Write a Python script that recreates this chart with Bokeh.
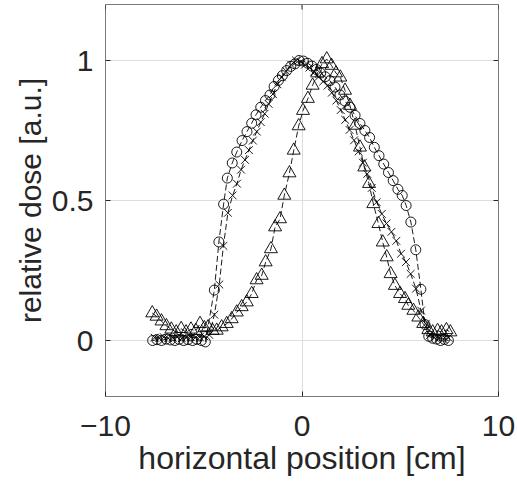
from bokeh.plotting import figure
from bokeh.models import Range1d, FixedTicker
from bokeh.embed import file_html
from bokeh.resources import INLINE

# ---- data ----
circ_x = [-7.6, -7.38, -7.15, -6.92, -6.7, -6.47, -6.25, -6.02, -5.8, -5.57, -5.35, -5.12, -4.92,
          -4.46, -4.23, -3.99, -3.8, -3.55, -3.32, -3.05, -2.8, -2.56, -2.34, -2.1, -1.86, -1.63,
          -1.42, -1.2, -1.0, -0.78, -0.57, -0.36, -0.15, 0.07, 0.29, 0.51, 0.73, 0.95, 1.18, 1.42,
          1.68, 1.93, 2.19, 2.44, 2.7, 2.95, 3.2, 3.44, 3.68, 3.92, 4.16, 4.4, 4.64, 4.88, 5.1,
          5.3, 5.54, 5.79, 6.05, 6.26, 6.45, 6.65, 6.85, 7.05, 7.25, 7.45]
circ_y = [0.0, 0.003, 0.0, 0.005, 0.002, 0.0, 0.004, 0.0, 0.003, 0.0, 0.004, 0.0, -0.005,
          0.18, 0.352, 0.487, 0.58, 0.634, 0.673, 0.714, 0.746, 0.776, 0.806, 0.833, 0.857, 0.877,
          0.907, 0.929, 0.946, 0.964, 0.979, 0.988, 1.0, 0.998, 0.99, 0.98, 0.968, 0.955, 0.942, 0.928,
          0.905, 0.877, 0.855, 0.833, 0.804, 0.775, 0.75, 0.725, 0.69, 0.66, 0.63, 0.6, 0.571, 0.54, 0.518,
          0.482, 0.423, 0.324, 0.183, 0.057, 0.015, 0.008, 0.005, 0.0, 0.004, 0.0]

cross_x = [-7.5, -7.27, -7.04, -6.81, -6.58, -6.35, -6.12, -5.89, -5.66, -5.43, -5.2, -4.97, -4.72,
           -4.46, -4.21, -4.0, -3.77, -3.53, -3.31, -3.1, -2.9, -2.7, -2.5, -2.3, -2.1, -1.9, -1.7,
           -1.48, -1.25, -1.03, -0.8, -0.55, -0.3, -0.07, 0.15, 0.38, 0.62, 0.85, 1.08, 1.3, 1.52,
           1.75, 1.97, 2.2, 2.42, 2.65, 2.88, 3.1, 3.32, 3.55, 3.8, 4.06, 4.3, 4.55, 4.8, 5.04,
           5.29, 5.53, 5.8, 6.06, 6.3, 6.52, 6.75, 6.98, 7.2, 7.45]
cross_y = [0.01, 0.008, 0.012, 0.008, 0.01, 0.012, 0.008, 0.01, 0.012, 0.01, 0.012, 0.015, 0.02,
           0.092, 0.2, 0.338, 0.456, 0.518, 0.56, 0.61, 0.645, 0.68, 0.714, 0.746, 0.78, 0.81, 0.845,
           0.88, 0.915, 0.94, 0.962, 0.985, 1.0, 0.995, 0.985, 0.975, 0.96, 0.942, 0.925, 0.91, 0.885,
           0.857, 0.823, 0.788, 0.752, 0.715, 0.675, 0.635, 0.595, 0.545, 0.494, 0.452, 0.418, 0.388, 0.356, 0.31,
           0.28, 0.238, 0.185, 0.107, 0.06, 0.02, 0.01, 0.01, 0.005, 0.01]

tri_x = [-7.62, -7.4, -7.15, -6.9, -6.65, -6.4, -6.15, -5.9, -5.65, -5.4, -5.19, -4.97, -4.78,
         -4.55, -4.34, -4.09, -3.83, -3.58, -3.32, -3.07, -2.81, -2.56, -2.31, -2.05, -1.85, -1.58,
         -1.37, -1.12, -0.9, -0.64, -0.42, -0.17, 0.05, 0.3, 0.54, 0.78, 1.02, 1.26, 1.5, 1.73,
         1.95, 2.19, 2.44, 2.7, 2.95, 3.17, 3.41, 3.63, 3.89, 4.11, 4.31, 4.51, 4.73, 4.99, 5.24,
         5.41, 5.67, 5.92, 6.17, 6.43, 6.65, 6.9, 7.1, 7.35, 7.55]
tri_y = [0.098, 0.086, 0.069, 0.052, 0.04, 0.03, 0.042, 0.03, 0.04, 0.035, 0.06, 0.045, 0.048,
         0.035, 0.036, 0.048, 0.06, 0.077, 0.101, 0.12, 0.137, 0.167, 0.216, 0.232, 0.28, 0.327,
         0.405, 0.434, 0.518, 0.598, 0.679, 0.766, 0.821, 0.864, 0.911, 0.955, 0.988, 1.005, 0.982, 0.955,
         0.94, 0.893, 0.839, 0.768, 0.69, 0.619, 0.56, 0.488, 0.417, 0.351, 0.298, 0.238, 0.196, 0.167, 0.149,
         0.125, 0.107, 0.083, 0.06, 0.038, 0.03, 0.035, 0.03, 0.038, 0.03]

x_ticks = [-10, 0, 10]
y_ticks = [0, 0.5, 1]
y_tick_labels = {0: "0", 0.5: "0.5", 1: "1"}
X_MIN, X_MAX = -10, 10
Y_MIN, Y_MAX = -0.2, 1.2

FONT = "Liberation Sans"
TXT = "#262626"
FRAME_W, FRAME_H = 393, 392
TICK_PX = 5

p = figure(frame_width=FRAME_W, frame_height=FRAME_H, output_backend="svg", toolbar_location=None,
           x_range=Range1d(X_MIN, X_MAX), y_range=Range1d(Y_MIN, Y_MAX),
           min_border_left=105, min_border_right=18, min_border_top=4, min_border_bottom=78,
           background_fill_color="white", border_fill_color="white")

p.outline_line_color = "#7a7a7a"
p.outline_line_width = 1

# grids
p.xgrid.ticker = FixedTicker(ticks=x_ticks)
p.ygrid.ticker = FixedTicker(ticks=y_ticks)
p.xgrid.grid_line_color = "#dedede"
p.ygrid.grid_line_color = "#dedede"

xa = p.xaxis[0]
ya = p.yaxis[0]
for ax, t in ((xa, x_ticks), (ya, y_ticks)):
    ax.ticker = FixedTicker(ticks=t)
    ax.axis_line_color = None
    ax.major_tick_in = TICK_PX
    ax.major_tick_out = 0
    ax.major_tick_line_color = TXT
    ax.minor_tick_line_color = None
    ax.major_label_text_font = FONT
    ax.major_label_text_color = TXT
    ax.major_label_text_font_size = "30px"
    ax.axis_label_text_font = FONT
    ax.axis_label_text_font_style = "normal"
    ax.axis_label_text_color = TXT
ya.major_label_overrides = y_tick_labels
xa.major_label_standoff = 19
ya.major_label_standoff = 12
xa.axis_label = "horizontal position [cm]"
ya.axis_label = "relative dose [a.u.]"
xa.axis_label_text_font_size = "32px"
ya.axis_label_text_font_size = "30px"
xa.axis_label_standoff = 1
ya.axis_label_standoff = 2

# inward tick marks on the top and right edges of the box
dy = TICK_PX * (Y_MAX - Y_MIN) / FRAME_H
dx = TICK_PX * (X_MAX - X_MIN) / FRAME_W
p.segment(x0=x_ticks, x1=x_ticks, y0=[Y_MAX] * len(x_ticks), y1=[Y_MAX - dy] * len(x_ticks),
          line_color=TXT, line_width=1)
p.segment(x0=[X_MAX] * len(y_ticks), x1=[X_MAX - dx] * len(y_ticks), y0=y_ticks, y1=y_ticks,
          line_color=TXT, line_width=1)

LW = 0.9
DASH = "6 3"
p.line(circ_x, circ_y, line_color="black", line_width=LW, line_dash=DASH)
p.line(cross_x, cross_y, line_color="black", line_width=LW, line_dash=DASH)
p.line(tri_x, tri_y, line_color="black", line_width=LW, line_dash=DASH)

p.scatter(circ_x, circ_y, marker="circle", size=10, fill_color=None, line_color="black", line_width=LW)
p.scatter(cross_x, cross_y, marker="x", size=11, line_color="black", line_width=LW)
p.scatter(tri_x, tri_y, marker="triangle", size=13, fill_color=None, line_color="black", line_width=LW)

open("out.html", "w").write(file_html(p, INLINE))
